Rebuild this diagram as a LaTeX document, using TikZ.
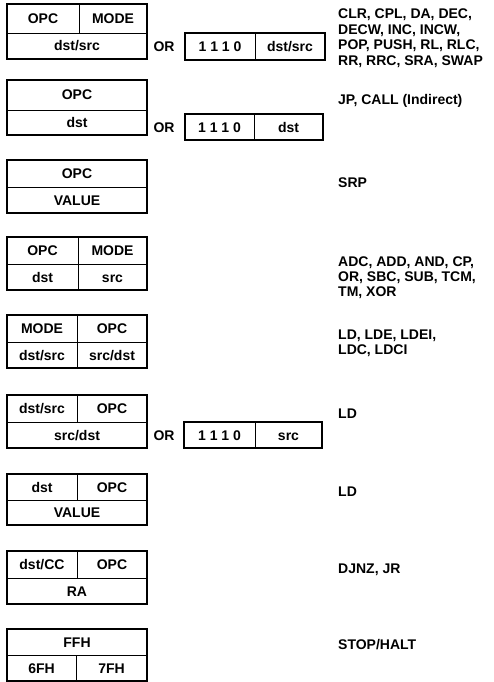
\documentclass[tikz,border=0pt]{standalone}
\usepackage{fontspec}
\setmainfont{Liberation Sans}
\begin{document}
\begin{tikzpicture}[x=1pt,y=-1pt,
  frame/.style={line width=1.6pt},
  divider/.style={line width=0.9pt},
  cell/.style={font=\fontsize{14}{15.5}\selectfont\bfseries, inner sep=0pt, text height=10pt, text depth=0pt, anchor=center},
  lbl/.style={font=\fontsize{14}{15.5}\selectfont\bfseries, inner sep=0pt, anchor=base west},
]
\useasboundingbox (0,0) rectangle (493,682);

% ---- Box 1
\draw[frame] (7,4) rectangle (147,59);
\draw[divider] (7,33) -- (147,33) (79,4) -- (79,33);
\node[cell] (b1a) at (43,18.5) {OPC};
\node[cell] (b1b) at (113,18.5) {MODE};
\node[cell] (b1c) at (77,46) {dst/src};
\node[cell] (or1) at (164,46.5) {OR};
\draw[frame] (185,33) rectangle (325,60);
\draw[divider] (255,33) -- (255,60);
\node[cell] (or1a) at (220,46.5) {1 1 1 0};
\node[cell] (or1b) at (290,46.5) {dst/src};
\node[lbl] (t1a) at (338,19) {CLR, CPL, DA, DEC,};
\node[lbl] (t1b) at (338,34.5) {DECW, INC, INCW,};
\node[lbl] (t1c) at (338,50) {POP, PUSH, RL, RLC,};
\node[lbl] (t1d) at (338,65.5) {RR, RRC, SRA, SWAP};

% ---- Box 2
\draw[frame] (7,80) rectangle (147,135);
\draw[divider] (7,110) -- (147,110);
\node[cell] (b2a) at (77,95) {OPC};
\node[cell] (b2b) at (77,122.5) {dst};
\node[cell] (or2) at (164,127) {OR};
\draw[frame] (185,114) rectangle (323,140);
\draw[divider] (254,114) -- (254,140);
\node[cell] (or2a) at (219.5,127) {1 1 1 0};
\node[cell] (or2b) at (288.5,127) {dst};
\node[lbl] (t2) at (338,105) {JP, CALL (Indirect)};

% ---- Box 3
\draw[frame] (7,160) rectangle (147,213);
\draw[divider] (7,187) -- (147,187);
\node[cell] (b3a) at (77,173.5) {OPC};
\node[cell] (b3b) at (77,200) {VALUE};
\node[lbl] (t3) at (338,187) {SRP};

% ---- Box 4
\draw[frame] (7,237) rectangle (147,290);
\draw[divider] (7,264) -- (147,264) (78,237) -- (78,290);
\node[cell] (b4a) at (42.5,250.5) {OPC};
\node[cell] (b4b) at (112.5,250.5) {MODE};
\node[cell] (b4c) at (42.5,277) {dst};
\node[cell] (b4d) at (112.5,277) {src};
\node[lbl] (t4a) at (338,266) {ADC, ADD, AND, CP,};
\node[lbl] (t4b) at (338,281) {OR, SBC, SUB, TCM,};
\node[lbl] (t4c) at (338,296) {TM, XOR};

% ---- Box 5
\draw[frame] (7,315) rectangle (147,368);
\draw[divider] (7,342) -- (147,342) (77,315) -- (77,368);
\node[cell] (b5a) at (42,328.5) {MODE};
\node[cell] (b5b) at (112,328.5) {OPC};
\node[cell] (b5c) at (42,355) {dst/src};
\node[cell] (b5d) at (112,355) {src/dst};
\node[lbl] (t5a) at (338,339) {LD, LDE, LDEI,};
\node[lbl] (t5b) at (338,354) {LDC, LDCI};

% ---- Box 6
\draw[frame] (7,395) rectangle (147,448);
\draw[divider] (7,422) -- (147,422) (77,395) -- (77,422);
\node[cell] (b6a) at (42,408.5) {dst/src};
\node[cell] (b6b) at (112,408.5) {OPC};
\node[cell] (b6c) at (77,435) {src/dst};
\node[cell] (or6) at (164,435) {OR};
\draw[frame] (184,422) rectangle (322,448);
\draw[divider] (255,422) -- (255,448);
\node[cell] (or6a) at (219.5,435) {1 1 1 0};
\node[cell] (or6b) at (288.5,435) {src};
\node[lbl] (t6) at (338,418) {LD};

% ---- Box 7
\draw[frame] (7,474) rectangle (147,525);
\draw[divider] (7,500) -- (147,500) (77,474) -- (77,500);
\node[cell] (b7a) at (42,487) {dst};
\node[cell] (b7b) at (112,487) {OPC};
\node[cell] (b7c) at (77,512.5) {VALUE};
\node[lbl] (t7) at (338,496) {LD};

% ---- Box 8
\draw[frame] (7,551) rectangle (147,604);
\draw[divider] (7,578) -- (147,578) (77,551) -- (77,578);
\node[cell] (b8a) at (42,564.5) {dst/CC};
\node[cell] (b8b) at (112,564.5) {OPC};
\node[cell] (b8c) at (77,591) {RA};
\node[lbl] (t8) at (338,573) {DJNZ, JR};

% ---- Box 9
\draw[frame] (7,629) rectangle (147,681);
\draw[divider] (7,655) -- (147,655) (76,655) -- (76,681);
\node[cell] (b9a) at (77,642) {FFH};
\node[cell] (b9b) at (41.5,668) {6FH};
\node[cell] (b9c) at (111.5,668) {7FH};
\node[lbl] (t9) at (338,649) {STOP/HALT};
\end{tikzpicture}
\end{document}
